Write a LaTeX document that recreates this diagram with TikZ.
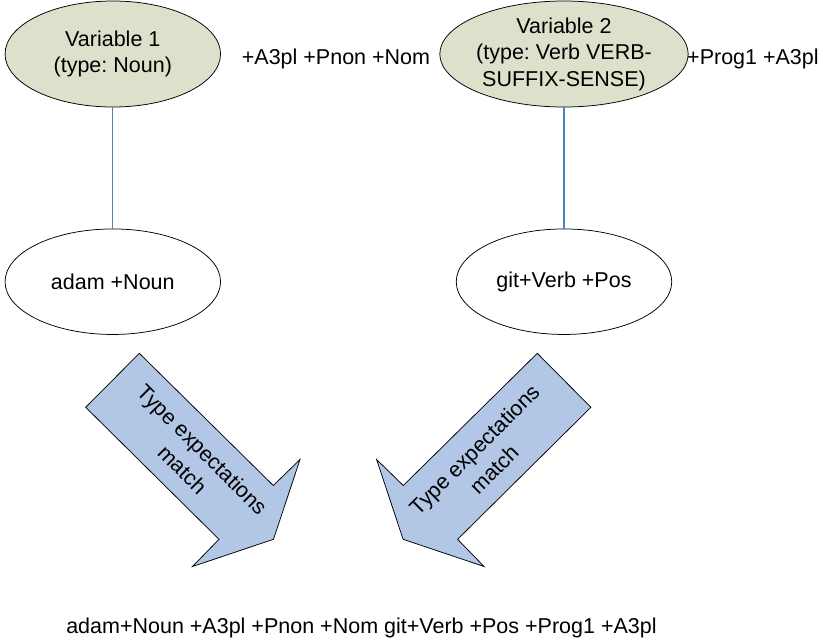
\documentclass[tikz,border=0pt]{standalone}
\usepackage{fontspec}
\setmainfont{Liberation Sans}
\usetikzlibrary{shapes.geometric}
\definecolor{varfill}{HTML}{DDE0CA}
\definecolor{arrowfill}{HTML}{B2C6E6}
\definecolor{linkblue}{HTML}{4F81BD}
\frenchspacing
\begin{document}
\begin{tikzpicture}[x=1pt,y=-1pt,
  every node/.style={font=\fontsize{21.5}{26.5}\selectfont, text=black},
  varnode/.style={ellipse, draw=black, line width=0.75pt, fill=varfill,
    minimum width=215.5pt, minimum height=106pt, inner sep=0pt, align=center},
  wordnode/.style={ellipse, draw=black, line width=0.75pt, fill=white,
    minimum width=215.5pt, minimum height=105.5pt, inner sep=0pt, align=center},
  link/.style={draw=linkblue, line width=1.2pt},
  bigarrow/.style={draw=black, line width=0.75pt, fill=arrowfill, line join=miter},
  arrowlabel/.style={align=center, font=\fontsize{21.5}{28}\selectfont}]
\useasboundingbox (0,0) rectangle (823,641);

% variable nodes and their suffixes
\node[varnode] (v1) at (112.8,54) {Variable 1\\(type: Noun)};
\node[varnode] (v2) at (564,54) {Variable 2\\(type: Verb VERB-\\SUFFIX-SENSE)};
\node (s1) at (336,59) {+A3pl +Pnon +Nom};
\node[anchor=west, inner sep=0pt] (s2) at (687,59) {+Prog1 +A3pl};

% word nodes
\node[wordnode] (w1) at (112.8,281.7) {adam +Noun};
\node[wordnode] (w2) at (564,281.7) {git+Verb +Pos};

% links between variables and words
\draw[link] (v1) -- (w1);
\draw[link] (v2) -- (w2);

% block arrows
\path[bigarrow] (139.3,353.3) -- (273.3,485.5) -- (300,459.5) -- (273.5,539.3)
  -- (192.5,566.5) -- (219,539.3) -- (85.7,407.3) -- cycle;
\path[bigarrow] (537.3,353.3) -- (403.3,485.5) -- (376.6,459.5) -- (403.1,539.3)
  -- (484.1,566.5) -- (457.6,539.3) -- (590.9,407.3) -- cycle;
\node[arrowlabel, rotate=-45] (a1) at (192.5,459.5) {Type expectations\\match};
\node[arrowlabel, rotate=45] (a2) at (484.1,459.5) {Type expectations\\match};

% combined result
\node (res) at (361.5,627.5) {adam+Noun +A3pl +Pnon +Nom git+Verb +Pos +Prog1 +A3pl};
\end{tikzpicture}
\end{document}
